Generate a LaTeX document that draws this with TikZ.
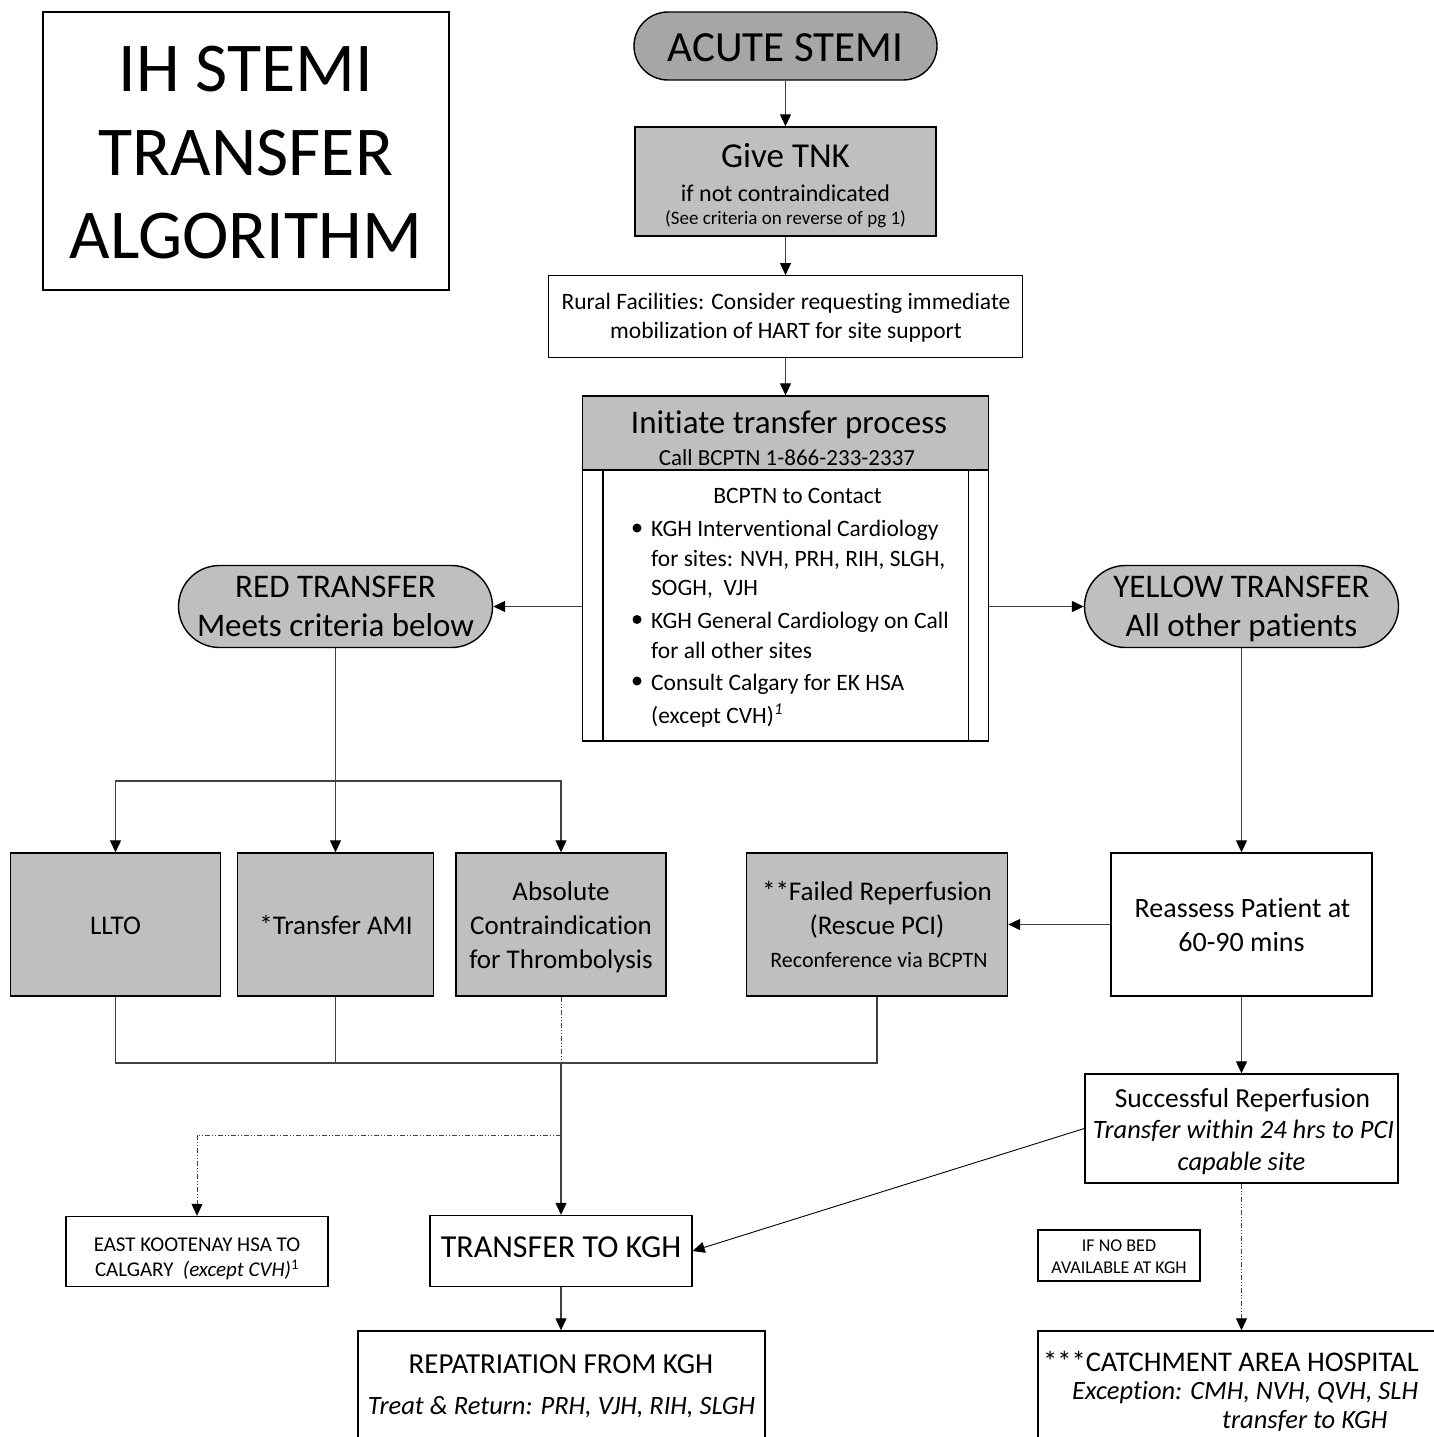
\documentclass[tikz,border=0pt]{standalone}
\usepackage{fontspec}
\setmainfont{Carlito}[Ligatures=NoCommon]
\usetikzlibrary{arrows.meta,shapes.misc}
\definecolor{gdark}{HTML}{A6A6A6}
\definecolor{glight}{HTML}{BFBFBF}
\definecolor{lnc}{HTML}{404040}
\newcommand{\setfs}[1]{\fontsize{#1}{#1}\selectfont}
\begin{document}
\begin{tikzpicture}[x=1pt,y=-1pt,
 box/.style={draw=black, line width=1.4pt, rectangle, inner sep=0pt},
 pill/.style={draw=black, line width=1.4pt, rounded rectangle, inner sep=0pt},
 tx/.style={inner sep=0pt, anchor=base},
 txw/.style={inner sep=0pt, anchor=base west},
 conn/.style={draw=lnc, line width=1.2pt},
 tip/.style={-{Triangle[length=12pt,width=11pt,color=black]}},
 arr/.style={conn, tip},
 dd/.style={draw=lnc, line width=1pt, dash pattern=on 5pt off 2pt on 1pt off 2pt on 1pt off 2pt},
 bul/.style={circle, fill=black, inner sep=0pt, minimum size=9pt},
]
\useasboundingbox (0,0) rectangle (1434,1437);
\fill[white] (0,0) rectangle (1434,1437);

% title
\node[box, minimum width=406, minimum height=278] (title) at (246,151) {};
\node[tx, font=\setfs{70}] (t1) at (246,92) {IH STEMI};
\node[tx, font=\setfs{70}] (t2) at (246,175) {TRANSFER};
\node[tx, font=\setfs{70}] (t3) at (246,258) {ALGORITHM};

% acute stemi
\node[pill, fill=gdark, minimum width=303, minimum height=68] (acute) at (785.5,46) {};
\node[tx, font=\setfs{43}] (acutet) at (785.5,62) {ACUTE STEMI};

% give TNK
\node[box, fill=glight, minimum width=301, minimum height=109] (tnk) at (785.5,181.5) {};
\node[tx, font=\setfs{35}] (tnk1) at (785.5,167) {Give TNK};
\node[tx, font=\setfs{24}] (tnk2) at (785.5,201) {if not contraindicated};
\node[tx, font=\setfs{19}] (tnk3) at (785.5,224) {(See criteria on reverse of pg 1)};

% rural
\node[box, minimum width=474, minimum height=81.5] (rural) at (785.5,316.5) {};
\node[tx, font=\setfs{23.5}] (r1) at (786,309.5) {Rural Facilities: Consider requesting immediate};
\node[tx, font=\setfs{23.5}] (r2) at (786,338.5) {mobilization of HART for site support};

% initiate
\node[box, fill=glight, minimum width=406, minimum height=74] (inithead) at (785.5,433) {};
\node[box, fill=white, minimum width=406, minimum height=271] (initbody) at (785.5,605.5) {};
\draw[line width=1.4pt] ([xshift=21pt]initbody.north west) -- ([xshift=21pt]initbody.south west);
\draw[line width=1.4pt] ([xshift=-21pt]initbody.north east) -- ([xshift=-21pt]initbody.south east);
\node[tx, font=\setfs{33}] (i1) at (789,433) {Initiate transfer process};
\node[tx, font=\setfs{23}] (i2) at (787,465) {Call BCPTN 1-866-233-2337};
\node[tx, font=\setfs{23.5}] (i3) at (797.5,503) {BCPTN to Contact};
\node[bul] (b1) at (637,528) {};
\node[bul] (b2) at (637,619.5) {};
\node[bul] (b3) at (637,681) {};
\node[txw, font=\setfs{23.5}] (l1) at (651,536.7) {KGH Interventional Cardiology};
\node[txw, font=\setfs{23.5}] (l2) at (651,566.7) {for sites: NVH, PRH, RIH, SLGH,};
\node[txw, font=\setfs{23.5}] (l3) at (651,595.5) {SOGH,\ \ VJH};
\node[txw, font=\setfs{23.5}] (l4) at (651,628.3) {KGH General Cardiology on Call};
\node[txw, font=\setfs{23.5}] (l5) at (651,658.3) {for all other sites};
\node[txw, font=\setfs{23.5}] (l6) at (651,690) {Consult Calgary for EK HSA};
\node[txw, font=\setfs{23.5}] (l7) at (651,723.3) {(except CVH)\textsuperscript{\itshape 1}};

% red / yellow
\node[pill, fill=glight, minimum width=314, minimum height=82] (red) at (335.5,606.5) {};
\node[tx, font=\setfs{33}] (red1) at (335.5,597) {RED TRANSFER};
\node[tx, font=\setfs{33}] (red2) at (335.5,636) {Meets criteria below};
\node[pill, fill=glight, minimum width=314, minimum height=82] (yellow) at (1241.5,606.5) {};
\node[tx, font=\setfs{33}] (y1) at (1241.5,597) {YELLOW TRANSFER};
\node[tx, font=\setfs{33}] (y2) at (1241.5,636) {All other patients};

% row of boxes
\node[box, fill=glight, minimum width=210, minimum height=143] (llto) at (115.5,924.5) {};
\node[tx, font=\setfs{27}] (llto1) at (115.5,934) {LLTO};
\node[box, fill=glight, minimum width=196, minimum height=143] (ami) at (335.5,924.5) {};
\node[tx, font=\setfs{27}] (ami1) at (336,934) {*Transfer AMI};
\node[box, fill=glight, minimum width=210, minimum height=143] (abs) at (561,924.5) {};
\node[tx, font=\setfs{27}] (abs1) at (561,900) {Absolute};
\node[tx, font=\setfs{27}] (abs2) at (561,934) {Contraindication};
\node[tx, font=\setfs{27}] (abs3) at (561,968) {for Thrombolysis};
\node[box, fill=glight, minimum width=261, minimum height=143] (failed) at (877,924.5) {};
\node[tx, font=\setfs{27}] (f1) at (877,900) {**Failed Reperfusion};
\node[tx, font=\setfs{27}] (f2) at (877,934) {(Rescue PCI)};
\node[tx, font=\setfs{22}] (f3) at (879,967.5) {Reconference via BCPTN};
\node[box, fill=white, minimum width=261, minimum height=143] (reas) at (1241.5,924.5) {};
\node[tx, font=\setfs{28}] (re1) at (1242.5,917) {Reassess Patient at};
\node[tx, font=\setfs{28}] (re2) at (1241.5,951.5) {60-90 mins};

% successful
\node[box, fill=white, minimum width=313, minimum height=109] (succ) at (1241.5,1128.5) {};
\node[tx, font=\setfs{27.5}] (s1) at (1242.5,1107) {Successful Reperfusion};
\node[tx, font=\setfs{26.5}\itshape] (s2) at (1243.5,1138.5) {Transfer within 24 hrs to PCI};
\node[tx, font=\setfs{26.5}\itshape] (s3) at (1241.5,1170) {capable site};

% east kootenay
\node[box, fill=white, minimum width=262, minimum height=70] (ek) at (197,1251.5) {};
\node[tx, font=\setfs{21}] (ek1) at (197,1251.7) {EAST KOOTENAY HSA TO};
\node[tx, font=\setfs{21}] (ek2) at (197,1276.7) {CALGARY\ \ \textit{(except CVH)}\textsuperscript{1}};

% transfer to KGH
\node[box, fill=white, minimum width=262, minimum height=71] (tkgh) at (561,1251) {};
\node[tx, font=\setfs{32}] (tk1) at (561,1257) {TRANSFER TO KGH};

% if no bed
\node[box, fill=white, minimum width=162, minimum height=51] (nobed) at (1119,1255.5) {};
\node[tx, font=\setfs{18}] (nb1) at (1119,1251.7) {IF NO BED};
\node[tx, font=\setfs{18}] (nb2) at (1119,1273.3) {AVAILABLE AT KGH};

% repatriation
\node[box, fill=white, minimum width=407, minimum height=130] (repat) at (561.5,1396) {};
\node[tx, font=\setfs{29}] (rp1) at (561,1373) {REPATRIATION FROM KGH};
\node[tx, font=\setfs{26.5}\itshape] (rp2) at (561.5,1414) {Treat \& Return: PRH, VJH, RIH, SLGH};

% catchment
\node[box, fill=white, minimum width=420, minimum height=130] (catch) at (1248,1396) {};
\node[txw, font=\setfs{28.5}] (c1) at (1043,1371.7) {***CATCHMENT AREA HOSPITAL};
\node[txw, font=\setfs{26.5}\itshape] (c2) at (1072,1399) {Exception: CMH, NVH, QVH, SLH};
\node[txw, font=\setfs{26.5}\itshape] (c3) at (1222,1428) {transfer to KGH};

% connectors
\draw[arr] (acute) -- (tnk);
\draw[arr] (tnk) -- (rural);
\draw[arr] (rural) -- (inithead);
\draw[arr] (initbody.west |- red.east) -- (red.east);
\draw[arr] (initbody.east |- yellow.west) -- (yellow.west);
\coordinate (jr) at (335.5,781);
\draw[conn] (red.south) -- (jr);
\draw[arr] (jr) -| (llto.north);
\draw[arr] (jr) -- (ami.north);
\draw[arr] (jr) -| (abs.north);
\draw[arr] (yellow.south) -- (reas.north);
\draw[arr] (reas.west) -- (failed.east);
\draw[arr] (reas.south) -- (succ.north);
\coordinate (jb) at (561,1063);
\draw[conn] (llto.south) |- (jb);
\draw[conn] (failed.south) |- (jb);
\draw[conn] (ami.south) -- (ami.south |- jb);
\draw[dd] (abs.south) -- (jb);
\draw[arr] (jb) -- (tkgh.north);
\coordinate (je) at (561,1135);
\draw[dd, tip] (je) -| (ek.north);
\draw[line width=0.9pt, tip] (succ.west) -- (tkgh.east);
\draw[arr] (tkgh.south) -- (tkgh.south |- repat.north);
\draw[dd, tip] (succ.south) -- (succ.south |- catch.north);
\end{tikzpicture}
\end{document}
